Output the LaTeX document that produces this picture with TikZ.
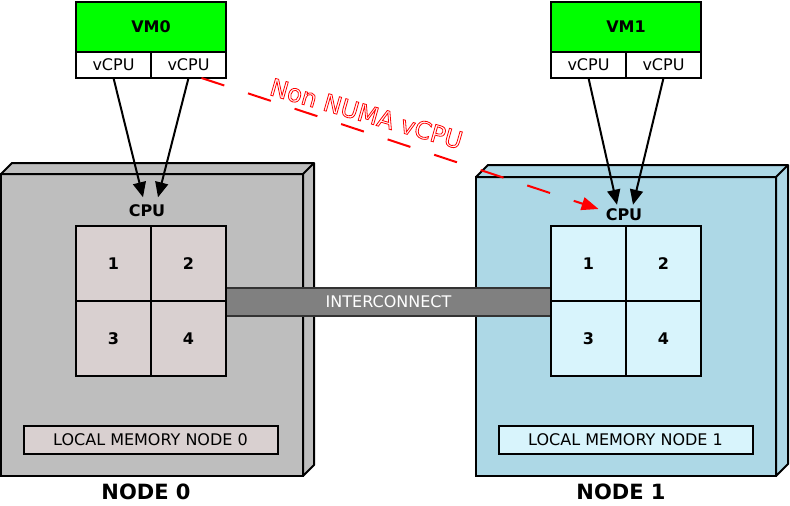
\documentclass[tikz,border=0pt]{standalone}
\usepackage{fontspec}
\setmainfont{DejaVu Sans}
\usepackage{xcolor}
\usetikzlibrary{positioning,arrows.meta,calc}
\definecolor{vmgreen}{HTML}{00FF00}
\definecolor{boxgray}{HTML}{BEBEBE}
\definecolor{boxblue}{HTML}{ADD8E6}
\definecolor{cellgray}{HTML}{D9D0D0}
\definecolor{cellblue}{HTML}{D8F4FC}
\definecolor{linkgray}{HTML}{808080}
\newcommand{\outlined}[1]{\special{pdf:literal direct 1 Tr 0.8 w}#1\special{pdf:literal direct 0 Tr}}

\begin{document}
\begin{tikzpicture}[
    x=1pt, y=-1pt,
    front/.style={draw, line width=2pt, inner sep=0pt, outer sep=0pt},
    cell/.style={draw, line width=2pt, minimum size=75pt, inner sep=0pt, outer sep=0pt,
                 font=\fontsize{16}{19}\selectfont\bfseries},
    vmbox/.style={draw, line width=2pt, fill=vmgreen, minimum width=150pt, minimum height=50pt,
                  inner sep=0pt, outer sep=0pt, font=\fontsize{16}{19}\selectfont\bfseries},
    vcpu/.style={draw, line width=2pt, fill=white, minimum width=75pt, minimum height=26pt,
                 inner sep=0pt, outer sep=0pt, font=\fontsize{16}{19}\selectfont},
    mem/.style={draw, line width=2pt, minimum width=254pt, minimum height=28pt,
                inner sep=0pt, font=\fontsize{16}{19}\selectfont},
    link/.style={draw=black!80, line width=1.5pt, fill=linkgray, text=white, minimum width=325pt,
                 minimum height=28pt, inner sep=0pt, font=\fontsize{16}{19}\selectfont},
    cpulabel/.style={inner sep=0pt, font=\fontsize{16}{19}\selectfont\bfseries},
    title/.style={font=\fontsize{21}{25}\selectfont\bfseries},
    numalabel/.style={text=red, anchor=base, rotate=-16, inner sep=0pt,
                      font=\fontsize{24}{28}\selectfont},
    arrow/.style={-{Triangle[length=15pt,width=13pt]}, line width=2pt},
    numa/.style={-{Triangle[length=17pt,width=13pt]}, red, line width=2pt,
                 dash pattern=on 24pt off 25pt},
]
    \useasboundingbox (0,0) rectangle (790,506);

    % NUMA node boxes
    \node[front, fill=boxgray, minimum width=302pt, minimum height=302pt] (node0) at (152,325) {};
    \draw[line width=2pt, fill=boxgray, line join=round]
        (node0.north west) -- ++(11,-11) -- ($(node0.north east)+(11,-11)$)
        -- ($(node0.south east)+(11,-11)$) -- (node0.south east) -- (node0.north east) -- cycle;
    \draw[line width=2pt] (node0.north east) -- ++(11,-11);

    \node[front, fill=boxblue, minimum width=300pt, minimum height=299pt] (node1) at (626,326.5) {};
    \draw[line width=2pt, fill=boxblue, line join=round]
        (node1.north west) -- ++(12,-12) -- ($(node1.north east)+(12,-12)$)
        -- ($(node1.south east)+(12,-12)$) -- (node1.south east) -- (node1.north east) -- cycle;
    \draw[line width=2pt] (node1.north east) -- ++(12,-12);

    % Interconnect
    \node[link] (link) at (388.5,302) {INTERCONNECT};

    % CPU cores
    \node[cpulabel] (cpu0) at (147,210.5) {CPU};
    \node[cell, fill=cellgray] (c01) at (113.5,263.5) {1};
    \node[cell, fill=cellgray, right=0pt of c01] (c02) {2};
    \node[cell, fill=cellgray, below=0pt of c01] (c03) {3};
    \node[cell, fill=cellgray, right=0pt of c03] (c04) {4};

    \node[cpulabel] (cpu1) at (624,215) {CPU};
    \node[cell, fill=cellblue] (c11) at (588.5,263.5) {1};
    \node[cell, fill=cellblue, right=0pt of c11] (c12) {2};
    \node[cell, fill=cellblue, below=0pt of c11] (c13) {3};
    \node[cell, fill=cellblue, right=0pt of c13] (c14) {4};

    % Local memory
    \node[mem, fill=cellgray] (mem0) at (150.5,440) {LOCAL MEMORY NODE 0};
    \node[mem, fill=cellblue] (mem1) at (625.5,440) {LOCAL MEMORY NODE 1};
    \node[title] (title0) at (146,492) {NODE 0};
    \node[title] (title1) at (621,492) {NODE 1};

    % Virtual machines
    \node[vmbox] (vm0) at (151,27) {VM0};
    \node[vcpu, anchor=north west] (v01) at (vm0.south west) {vCPU};
    \node[vcpu, right=0pt of v01] (v02) {vCPU};
    \node[vmbox] (vm1) at (626,27) {VM1};
    \node[vcpu, anchor=north west] (v11) at (vm1.south west) {vCPU};
    \node[vcpu, right=0pt of v11] (v12) {vCPU};

    % vCPU arrows
    \draw[arrow] (v01.south) -- ($(cpu0.north)+(-4,-7)$);
    \draw[arrow] (v02.south) -- ($(cpu0.north)+(11,-7)$);
    \draw[arrow] (v11.south) -- ($(cpu1.north)+(-7,-4)$);
    \draw[arrow] (v12.south) -- ($(cpu1.north)+(9,-4)$);

    % Non NUMA access
    \draw[numa] ($(v02.south)+(13,0)$) -- ($(cpu1.west)+(-7,-6)$);
    \node[numalabel] (numatxt) at (364,122) {\outlined{Non NUMA vCPU}};
\end{tikzpicture}
\end{document}
